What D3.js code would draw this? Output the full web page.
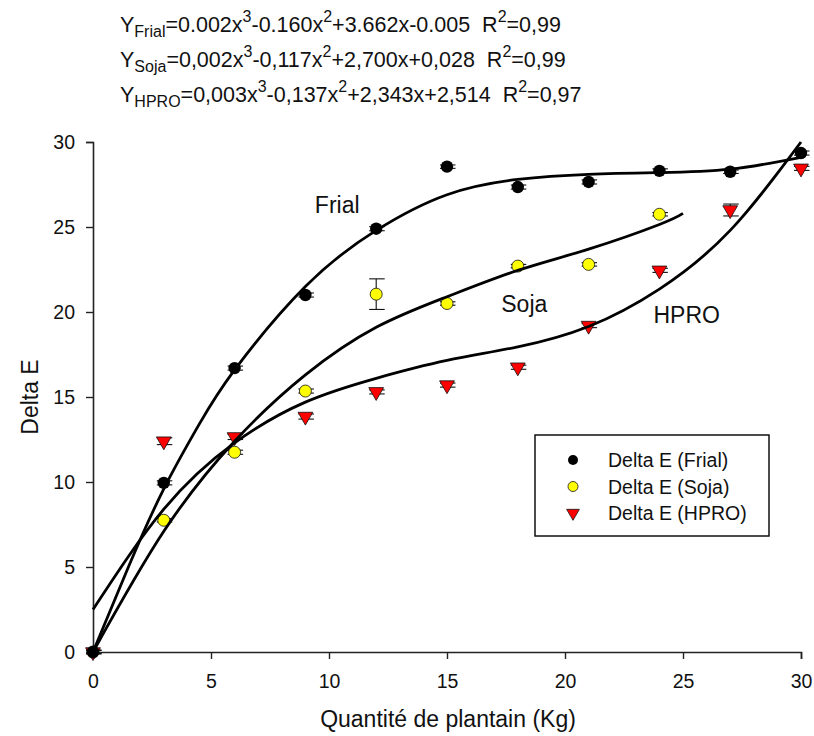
<!DOCTYPE html>
<html>
<head>
<meta charset="utf-8">
<script src="https://cdn.jsdelivr.net/npm/d3@7"></script>
<style>
  body { margin: 0; background: #fff; }
  svg { display: block; font-family: "Liberation Sans", Arial, sans-serif; }
</style>
</head>
<body>
<svg id="chart" width="814" height="736"></svg>
<script>
// ---- data ----
const xValues = [0, 3, 6, 9, 12, 15, 18, 21, 24, 27, 30];
const frialValues = [0, 9.95, 16.7, 21.0, 24.9, 28.55, 27.35, 27.65, 28.3, 28.25, 29.35];
const frialErrors = [0.1, 0.12, 0.12, 0.12, 0.12, 0.1, 0.12, 0.12, 0.12, 0.1, 0.12];
const sojaX = [0, 3, 6, 9, 12, 15, 18, 21, 24];
const sojaValues = [0, 7.75, 11.75, 15.35, 21.05, 20.5, 22.7, 22.8, 25.75];
const sojaErrors = [0.1, 0.1, 0.12, 0.12, 0.9, 0.1, 0.1, 0.1, 0.1];
const hproValues = [0, 12.4, 12.65, 13.85, 15.3, 15.7, 16.75, 19.2, 22.45, 26.0, 28.45];
const hproErrors = [0.1, 0.2, 0.15, 0.15, 0.12, 0.12, 0.12, 0.12, 0.12, 0.35, 0.12];

// fitted curves
const frialCurveX = [0, 1.5, 3, 4.5, 6, 9, 12, 15, 18, 21, 24, 27, 30];
const frialCurveY = [0, 5.0, 9.6, 13.4, 16.6, 21.5, 24.8, 26.9, 27.8, 28.1, 28.2, 28.4, 29.1];
const sojaCurveX = [0, 3, 6, 9, 12, 15, 18, 21, 24, 25];
const sojaCurveY = [0, 7.1, 12.4, 16.3, 19.1, 20.9, 22.45, 23.7, 25.15, 25.8];
const hproCurveX = [0, 3, 6, 9, 12, 15, 18, 21, 24, 27, 30];
const hproCurveY = [2.5, 8.4, 12.3, 14.7, 16.1, 17.15, 17.95, 19.15, 21.35, 24.8, 30.0];

const xTicks = [0, 5, 10, 15, 20, 25, 30];
const yTicks = [0, 5, 10, 15, 20, 25, 30];

const equations = [
  {name: "Frial", body: [["=0.002x", 0], ["3", 1], ["-0.160x", 0], ["2", 1], ["+3.662x-0.005  R", 0], ["2", 1], ["=0,99", 0]]},
  {name: "Soja", body: [["=0,002x", 0], ["3", 1], ["-0,117x", 0], ["2", 1], ["+2,700x+0,028  R", 0], ["2", 1], ["=0,99", 0]]},
  {name: "HPRO", body: [["=0,003x", 0], ["3", 1], ["-0,137x", 0], ["2", 1], ["+2,343x+2,514  R", 0], ["2", 1], ["=0,97", 0]]}
];
const legendLabels = ["Delta E (Frial)", "Delta E (Soja)", "Delta E (HPRO)"];
const curveLabels = [{t: "Frial", x: 9.4, y: 25.8}, {t: "Soja", x: 17.3, y: 20.0}, {t: "HPRO", x: 23.75, y: 19.35}];

// ---- drawing ----
const svg = d3.select("#chart");
const x = d3.scaleLinear().domain([0, 30]).range([93, 801]);
const y = d3.scaleLinear().domain([0, 30]).range([652, 142]);

// axes
const xAxis = svg.append("g").attr("transform", `translate(0,${y(0)})`)
  .call(d3.axisBottom(x).tickValues(xTicks).tickSize(7).tickPadding(15).tickFormat(d3.format("d")));
const yAxis = svg.append("g").attr("transform", `translate(${x(0)},0)`)
  .call(d3.axisLeft(y).tickValues(yTicks).tickSize(7).tickPadding(11).tickFormat(d3.format("d")));
[xAxis, yAxis].forEach(a => {
  a.select(".domain").attr("stroke", "#222").attr("stroke-width", 1.6);
  a.selectAll(".tick line").attr("stroke", "#222").attr("stroke-width", 1.4);
  a.selectAll(".tick text").attr("font-size", 19.5).attr("fill", "#111")
    .attr("font-family", "Liberation Sans, Arial, sans-serif");
});

svg.append("text").attr("x", 448).attr("y", 727).attr("text-anchor", "middle")
  .attr("font-size", 23).attr("fill", "#111").text("Quantité de plantain (Kg)");
svg.append("text").attr("transform", `translate(38,397) rotate(-90)`).attr("text-anchor", "middle")
  .attr("font-size", 23).attr("fill", "#111").text("Delta E");

// equations
equations.forEach((eq, i) => {
  const t = svg.append("text").attr("x", 120).attr("y", 32 + i * 35).attr("font-size", 21.5).attr("fill", "#111");
  t.append("tspan").text("Y");
  t.append("tspan").attr("font-size", 16).attr("dy", 5).text(eq.name);
  let prevShift = 5;
  eq.body.forEach(([s, sup]) => {
    const target = sup ? -10 : 0;
    t.append("tspan").attr("font-size", sup ? 16 : 21.5).attr("dy", target - prevShift)
      .style("white-space", "pre").text(s);
    prevShift = target;
  });
});

// error bars
function errorBars(xs, vals, errs) {
  const g = svg.append("g").attr("stroke", "#111").attr("stroke-width", 1.1);
  xs.forEach((xv, i) => {
    const cx = x(xv), e = errs[i];
    g.append("line").attr("x1", cx).attr("x2", cx).attr("y1", y(vals[i] + e)).attr("y2", y(vals[i] - e));
    [vals[i] + e, vals[i] - e].forEach(v => {
      g.append("line").attr("x1", cx - 7).attr("x2", cx + 8.5).attr("y1", y(v)).attr("y2", y(v));
    });
  });
}
errorBars(xValues, frialValues, frialErrors);
errorBars(sojaX, sojaValues, sojaErrors);
errorBars(xValues, hproValues, hproErrors);

// markers
const tri = d3.symbol().type(d3.symbolTriangle).size(95);
svg.append("g").selectAll("path").data(xValues).join("path")
  .attr("d", tri).attr("transform", (d, i) => `translate(${x(d)},${y(hproValues[i])}) rotate(180)`)
  .attr("fill", "#ff0000").attr("stroke", "#111").attr("stroke-width", 0.8);
svg.append("g").selectAll("circle").data(sojaX).join("circle")
  .attr("cx", d => x(d)).attr("cy", (d, i) => y(sojaValues[i])).attr("r", 6)
  .attr("fill", "#ffff00").attr("stroke", "#111").attr("stroke-width", 0.8);
svg.append("g").selectAll("circle").data(xValues).join("circle")
  .attr("cx", d => x(d)).attr("cy", (d, i) => y(frialValues[i])).attr("r", 6.2)
  .attr("fill", "#000");

// curves
const line = d3.line().x(d => x(d[0])).y(d => y(d[1])).curve(d3.curveNatural);
[[frialCurveX, frialCurveY], [sojaCurveX, sojaCurveY], [hproCurveX, hproCurveY]].forEach(([xs, ys]) => {
  svg.append("path").datum(xs.map((v, i) => [v, ys[i]])).attr("d", line)
    .attr("fill", "none").attr("stroke", "#000").attr("stroke-width", 2.8);
});

// curve labels
curveLabels.forEach(c => {
  svg.append("text").attr("x", x(c.x)).attr("y", y(c.y)).attr("font-size", 23).attr("fill", "#111").text(c.t);
});

// legend
const lg = svg.append("g");
lg.append("rect").attr("x", 535).attr("y", 435).attr("width", 234).attr("height", 101)
  .attr("fill", "#fff").attr("stroke", "#111").attr("stroke-width", 1.5);
legendLabels.forEach((lab, i) => {
  const cy = 460 + i * 26.5;
  if (i === 0) lg.append("circle").attr("cx", 573).attr("cy", cy).attr("r", 5).attr("fill", "#000");
  if (i === 1) lg.append("circle").attr("cx", 573).attr("cy", cy).attr("r", 5).attr("fill", "#ffff00").attr("stroke", "#111").attr("stroke-width", 0.8);
  if (i === 2) lg.append("path").attr("d", d3.symbol().type(d3.symbolTriangle).size(70)).attr("transform", `translate(573,${cy}) rotate(180)`)
    .attr("fill", "#ff0000").attr("stroke", "#111").attr("stroke-width", 0.8);
  lg.append("text").attr("x", 608).attr("y", cy + 7).attr("font-size", 19.5).attr("fill", "#111").text(lab);
});
</script>
</body>
</html>
